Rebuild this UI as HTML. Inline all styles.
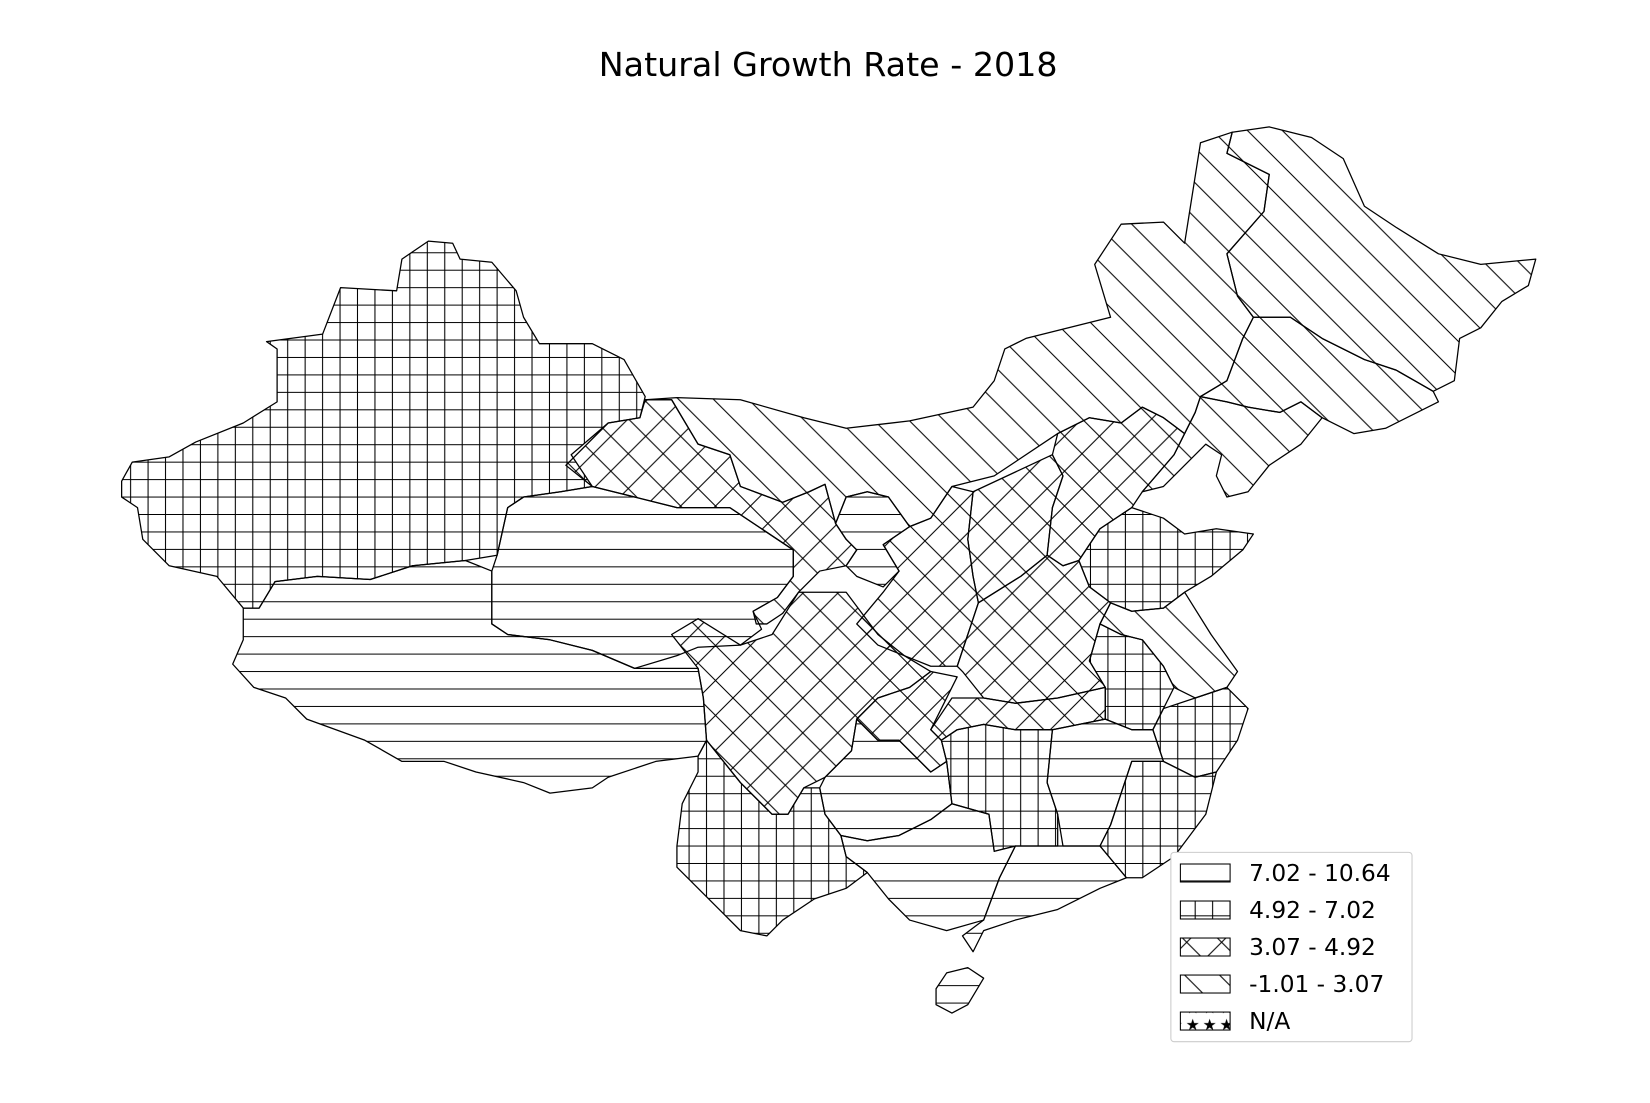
<!DOCTYPE html>
<html><head><meta charset="utf-8"><style>
html,body{margin:0;padding:0;background:#fff;}
svg{display:block;font-family:"DejaVu Sans","Liberation Sans",sans-serif;}
</style></head><body>
<svg id="chart" width="1650" height="1103" viewBox="0 0 1560 1043" preserveAspectRatio="none">
<defs>
<pattern id="p0" patternUnits="userSpaceOnUse" width="16.5" height="16.5"><path d="M0,8 H16.5" stroke="#000" stroke-width="1"/></pattern>
<pattern id="p1" patternUnits="userSpaceOnUse" width="16.5" height="16.5"><path d="M0,8 H16.5 M8,0 V16.5" stroke="#000" stroke-width="1"/></pattern>
<pattern id="p2" patternUnits="userSpaceOnUse" width="33" height="33"><path d="M0,0 L33,33 M33,0 L0,33" stroke="#000" stroke-width="1"/></pattern>
<pattern id="p3" patternUnits="userSpaceOnUse" width="33" height="33"><path d="M0,0 L33,33 M-1,32 L1,34 M32,-1 L34,1" stroke="#000" stroke-width="1"/></pattern>
<pattern id="p4" patternUnits="userSpaceOnUse" width="16" height="16"><text x="1" y="14" font-size="15">★</text></pattern>
</defs>
<text x="783" y="72" text-anchor="middle" font-size="31.5" fill="#000">Natural Growth Rate - 2018</text>
<g id="map"></g>
<g id="legend">
<rect x="1107" y="806" width="228" height="179" rx="3" fill="#fff" stroke="#ccc" stroke-width="1"/>
</g>
</svg>
<script>
const provinces = ["Xinjiang","Tibet","Qinghai","Gansu","Inner Mongolia","Heilongjiang","Jilin","Liaoning","Hebei","Shanxi","Shaanxi","Ningxia","Shandong","Henan","Jiangsu","Anhui","Zhejiang","Fujian","Jiangxi","Hubei","Hunan","Chongqing","Sichuan","Guizhou","Yunnan","Guangxi","Guangdong","Hainan"];
const rates = [6.13,10.64,8.06,4.42,2.40,-0.69,0.36,-1.00,4.88,4.31,4.43,7.78,6.08,4.60,2.29,6.45,5.44,7.00,7.37,4.54,6.19,3.48,4.04,7.05,6.87,8.16,8.24,8.36];
const breaks = [7.02,4.92,3.07,-1.01];
const legendLabels = ["7.02 - 10.64","4.92 - 7.02","3.07 - 4.92","-1.01 - 3.07","N/A"];

const shapes = {
"Xinjiang":"115,455 125,437 160,432 185,418 230,400 262,380 262,330 252,323 305,316 322,272 375,275 380,245 405,228 428,230 435,245 465,248 488,275 495,300 510,325 560,325 590,340 610,375 605,395 575,400 540,430 560,460 530,465 495,470 480,480 470,525 440,530 390,535 350,548 300,545 260,550 245,575 230,575 205,545 160,535 135,510 130,480 115,470",
"Tibet":"230,575 245,575 260,550 300,545 350,548 390,535 440,530 465,540 465,590 480,600 520,605 560,615 600,632 660,632 665,660 668,700 660,715 620,720 575,735 560,745 520,750 495,740 450,730 420,720 380,720 345,700 290,680 270,660 240,650 220,628 230,605",
"Qinghai":"465,540 470,525 480,480 495,470 530,465 560,460 600,470 640,480 690,480 720,500 750,520 750,545 735,565 712,578 720,595 700,610 660,612 640,620 600,632 560,615 520,605 480,600 465,590",
"Gansu":"535,440 575,400 605,395 610,378 635,378 660,420 690,430 700,460 740,475 765,465 780,458 790,495 800,510 810,520 800,535 775,540 755,560 740,580 725,590 715,590 712,578 735,565 750,545 750,520 720,500 690,480 640,480 600,470 560,460",
"Inner Mongolia":"610,378 640,376 700,378 760,395 800,405 860,398 920,385 940,360 950,330 970,320 1050,300 1035,250 1060,212 1100,210 1120,230 1135,135 1165,125 1160,145 1200,165 1195,200 1160,240 1170,280 1185,300 1175,320 1160,360 1135,375 1130,390 1120,410 1100,395 1080,385 1060,400 1030,395 1000,410 940,450 900,460 880,490 860,498 840,470 820,465 800,470 790,495 780,458 765,465 740,475 700,460 690,430 660,420 635,378",
"Heilongjiang":"1165,125 1200,120 1240,130 1270,150 1290,195 1320,215 1360,240 1400,250 1452,245 1445,270 1420,285 1400,310 1380,320 1375,360 1355,370 1320,350 1290,340 1250,320 1220,300 1185,300 1170,280 1160,240 1195,200 1200,165 1160,145",
"Jilin":"1185,300 1220,300 1250,320 1290,340 1320,350 1355,370 1360,380 1310,405 1280,410 1250,395 1230,380 1210,390 1180,385 1160,380 1135,375 1160,360 1175,320",
"Liaoning":"1135,375 1160,380 1180,385 1210,390 1230,380 1250,395 1230,420 1200,440 1180,465 1160,470 1150,450 1155,430 1140,420 1120,440 1100,460 1080,465 1110,430 1120,410 1130,390",
"Hebei":"1000,410 1030,395 1060,400 1080,385 1100,395 1120,410 1110,430 1080,465 1070,480 1040,500 1020,530 1005,535 990,525 995,480 1005,450 995,430",
"Shanxi":"920,465 995,430 1005,450 995,480 990,525 965,545 925,570 920,545 915,510",
"Shaanxi":"880,490 900,460 920,465 915,510 920,545 925,570 915,600 905,630 880,630 855,620 830,610 810,590 835,560 850,540 835,515 860,498",
"Ningxia":"790,495 800,470 820,465 840,470 860,498 835,515 850,540 835,555 810,545 800,535 810,520 800,510",
"Shandong":"1040,500 1070,480 1100,490 1120,505 1150,500 1185,505 1175,520 1145,545 1120,560 1100,575 1070,578 1050,570 1030,555 1020,530",
"Henan":"925,570 965,545 990,525 1005,535 1020,530 1030,555 1050,570 1040,590 1030,625 1045,650 1000,660 960,665 930,660 910,635 905,630 915,600",
"Jiangsu":"1050,570 1070,578 1100,575 1120,560 1145,600 1170,635 1160,650 1130,660 1110,650 1100,630 1080,605 1060,600 1040,590",
"Anhui":"1040,590 1060,600 1080,605 1100,630 1110,650 1100,670 1090,690 1070,690 1045,680 1045,650 1030,625",
"Zhejiang":"1100,670 1130,660 1160,650 1180,670 1170,700 1150,730 1130,735 1100,720 1090,690",
"Fujian":"1070,720 1100,720 1130,735 1150,730 1140,770 1110,810 1080,830 1065,830 1040,800 1050,780 1060,750",
"Jiangxi":"995,690 1045,680 1070,690 1090,690 1100,720 1070,720 1060,750 1050,780 1040,800 1005,800 1000,770 990,740",
"Hubei":"880,690 900,660 930,660 960,665 1000,660 1045,650 1045,680 995,690 960,690 930,685 905,690 890,700",
"Hunan":"890,700 905,690 930,685 960,690 995,690 990,740 1000,770 1000,800 960,800 940,805 935,770 900,760 895,720",
"Chongqing":"810,680 830,660 860,650 880,635 905,640 880,690 890,700 895,720 880,730 850,700 830,700",
"Sichuan":"635,600 660,585 700,610 730,600 755,560 800,560 830,600 855,620 880,635 860,650 830,660 810,680 805,710 780,735 760,745 745,770 730,770 700,740 680,715 668,700 665,660 660,632",
"Guizhou":"780,735 805,710 810,680 830,700 850,700 880,730 895,720 900,760 880,775 850,790 820,795 795,790 780,770 775,745",
"Yunnan":"640,800 645,760 660,730 660,715 668,700 680,715 700,740 730,770 745,770 760,745 775,745 780,770 795,790 800,810 820,825 800,840 770,850 740,870 725,885 700,880 680,860 660,840 640,820",
"Guangxi":"795,790 820,795 850,790 880,775 900,760 935,770 940,805 960,800 945,830 930,870 895,880 860,870 840,850 820,825 800,810",
"Guangdong":"960,800 1000,800 1040,800 1065,830 1040,840 1000,860 960,870 930,880 920,900 910,885 930,870 945,830",
"Hainan":"885,935 895,920 915,915 930,925 915,950 900,958 885,950"
};

function classify(v){
  for (let i=0;i<breaks.length;i++){ if (v>=breaks[i]) return i; }
  return 4;
}
const NS="http://www.w3.org/2000/svg";
const map=document.getElementById('map');
provinces.forEach((name,i)=>{
  const pts=shapes[name]; if(!pts) return;
  const cls = (rates[i]==null||isNaN(rates[i])) ? 4 : classify(rates[i]);
  const p=document.createElementNS(NS,'polygon');
  p.setAttribute('points',pts);
  p.setAttribute('fill','url(#p'+cls+')');
  p.setAttribute('stroke','#000');
  p.setAttribute('stroke-width','1.2');
  p.setAttribute('stroke-linejoin','round');
  
  
  map.appendChild(p);
});
const lg=document.getElementById('legend');
legendLabels.forEach((lab,i)=>{
  const y=825+i*35;
  const r=document.createElementNS(NS,'rect');
  r.setAttribute('x',1116); r.setAttribute('y',y-8); r.setAttribute('width',47); r.setAttribute('height',17);
  r.setAttribute('fill','url(#p'+i+')'); r.setAttribute('stroke','#000'); r.setAttribute('stroke-width','1');
  
  
  lg.appendChild(r);
  const t=document.createElementNS(NS,'text');
  t.setAttribute('x',1181); t.setAttribute('y',y+8); t.setAttribute('font-size','22');
  t.textContent=lab;
  
  
  lg.appendChild(t);
});
</script>
</body></html>
